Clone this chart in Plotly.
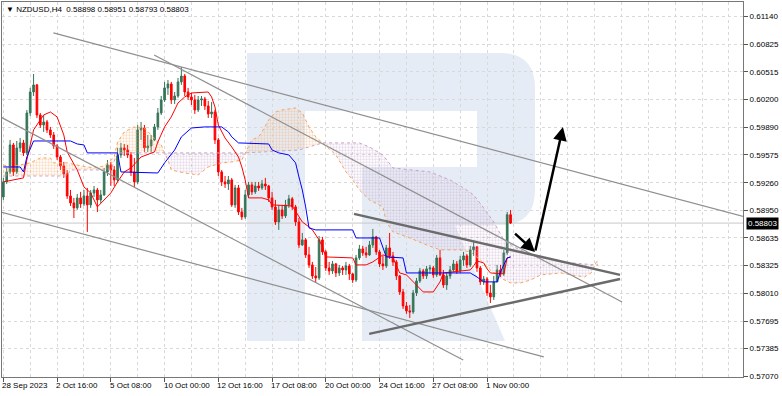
import plotly.graph_objects as go

# ---------------- data ----------------
first_open = 0.59099
bar_close = [0.59269,0.59382,0.59687,0.59382,0.59653,0.59710,0.59597,0.60049,0.60286,0.60366,
0.60026,0.59913,0.59947,0.59857,0.59800,0.59676,0.59551,0.59450,0.59359,0.59110,
0.59031,0.58975,0.59088,0.59020,0.59110,0.59009,0.59144,0.59178,0.59065,0.59122,
0.59382,0.59461,0.59404,0.59291,0.59574,0.59653,0.59630,0.59574,0.59382,0.59269,
0.59857,0.59879,0.59653,0.59676,0.59744,0.59891,0.60049,0.60196,0.60332,0.60377,
0.60196,0.60241,0.60400,0.60467,0.60286,0.60230,0.60196,0.60083,0.60196,0.60207,
0.60128,0.60038,0.60060,0.59744,0.59382,0.59269,0.59246,0.59291,0.59009,0.59201,
0.58929,0.58873,0.59122,0.59235,0.59156,0.59223,0.59201,0.59246,0.59223,0.59088,
0.58986,0.58816,0.58952,0.58884,0.59009,0.59077,0.58986,0.58816,0.58556,0.58613,
0.58443,0.58330,0.58205,0.58183,0.58613,0.58477,0.58296,0.58262,0.58341,0.58239,
0.58296,0.58273,0.58319,0.58228,0.58160,0.58409,0.58511,0.58466,0.58443,0.58556,
0.58647,0.58477,0.58341,0.58319,0.58522,0.58432,0.58364,0.58205,0.58024,0.57866,
0.57810,0.57798,0.58013,0.58149,0.58262,0.58205,0.58285,0.58296,0.58217,0.58409,
0.58217,0.58104,0.58205,0.58273,0.58341,0.58262,0.58386,0.58432,0.58330,0.58500,
0.58534,0.58296,0.58138,0.58171,0.58013,0.57968,0.58138,0.58273,0.58228,0.58466,
0.58898,0.58803]
bar_high = [0.59314,0.59427,0.59744,0.59710,0.59732,0.59766,0.59744,0.60083,0.60332,0.60490,
0.60377,0.60049,0.60026,0.59970,0.59891,0.59834,0.59698,0.59574,0.59495,0.59404,
0.59178,0.59088,0.59133,0.59156,0.59178,0.59201,0.59178,0.59223,0.59201,0.59178,
0.59427,0.59517,0.59495,0.59450,0.59653,0.59710,0.59698,0.59687,0.59608,0.59540,
0.59913,0.59947,0.59913,0.59800,0.59800,0.59925,0.60105,0.60241,0.60400,0.60422,
0.60400,0.60286,0.60445,0.60569,0.60490,0.60332,0.60275,0.60253,0.60241,0.60241,
0.60230,0.60185,0.60173,0.60083,0.59766,0.59404,0.59336,0.59336,0.59314,0.59235,
0.59235,0.58975,0.59178,0.59269,0.59269,0.59269,0.59269,0.59291,0.59314,0.59235,
0.59156,0.59065,0.59009,0.59009,0.59065,0.59122,0.59099,0.59009,0.58861,0.58692,
0.58635,0.58534,0.58364,0.58307,0.58658,0.58647,0.58500,0.58364,0.58375,0.58352,
0.58330,0.58319,0.58364,0.58341,0.58239,0.58443,0.58556,0.58545,0.58534,0.58601,
0.58737,0.58658,0.58500,0.58432,0.58556,0.58692,0.58477,0.58386,0.58217,0.58058,
0.57911,0.57877,0.58047,0.58183,0.58296,0.58285,0.58319,0.58330,0.58319,0.58443,
0.58500,0.58273,0.58239,0.58319,0.58386,0.58375,0.58432,0.58477,0.58454,0.58545,
0.58590,0.58545,0.58319,0.58205,0.58194,0.58104,0.58205,0.58330,0.58330,0.58500,
0.58929,0.58951]
bar_low = [0.59065,0.59246,0.59359,0.59336,0.59359,0.59608,0.59563,0.59574,0.60015,0.60241,
0.59992,0.59879,0.59834,0.59823,0.59766,0.59642,0.59517,0.59404,0.59314,0.59077,
0.58997,0.58861,0.58952,0.58975,0.58997,0.58703,0.58975,0.59099,0.58929,0.59031,
0.59110,0.59336,0.59223,0.59223,0.59269,0.59540,0.59563,0.59540,0.59336,0.59212,
0.59246,0.59744,0.59608,0.59608,0.59608,0.59732,0.59857,0.60026,0.60173,0.60253,
0.60151,0.60151,0.60219,0.60366,0.60241,0.60196,0.60139,0.60038,0.60060,0.60128,
0.60083,0.59992,0.59992,0.59698,0.59336,0.59223,0.59201,0.59178,0.58986,0.58975,
0.58895,0.58839,0.58850,0.59088,0.59122,0.59133,0.59167,0.59178,0.59178,0.59042,
0.58952,0.58782,0.58726,0.58850,0.58861,0.58975,0.58952,0.58771,0.58522,0.58545,
0.58409,0.58296,0.58171,0.58126,0.58160,0.58443,0.58262,0.58217,0.58228,0.58194,
0.58205,0.58217,0.58217,0.58160,0.58126,0.58138,0.58386,0.58432,0.58409,0.58432,
0.58522,0.58443,0.58307,0.58273,0.58296,0.58398,0.58319,0.58160,0.57990,0.57832,
0.57776,0.57730,0.57776,0.57979,0.58126,0.58171,0.58171,0.58228,0.58183,0.58194,
0.58205,0.58070,0.58047,0.58171,0.58251,0.58228,0.58239,0.58319,0.58296,0.58307,
0.58432,0.58251,0.58104,0.58104,0.57979,0.57900,0.57934,0.58138,0.58194,0.58205,
0.58443,0.58793]
bar_open = [first_open] + bar_close[:-1]
bar_index = list(range(len(bar_close)))

tenkan_bar = [0,3,6,7,9,12,14,16,18,19,22,24,26,28,30,32,34,36,38,41,45,46,48,50,52,54,56,61,62,63,
64,66,68,70,71,72,73,77,79,80,86,88,89,91,92,94,95,96,104,105,108,110,113,116,118,120,123,125,128,130,
131,139,140,141,143,144,145,149,150,151]
tenkan_val = [0.59269,0.59291,0.59314,0.59517,0.59857,0.60026,0.60060,0.60004,0.59800,0.59608,
0.59404,0.59212,0.59144,0.58986,0.59065,0.59144,0.59269,0.59382,0.59427,0.59551,
0.59608,0.59721,0.59891,0.60004,0.60162,0.60230,0.60275,0.60286,0.60230,0.60117,
0.59913,0.59766,0.59664,0.59551,0.59438,0.59291,0.59088,0.59088,0.59065,0.59009,
0.58997,0.58873,0.58816,0.58760,0.58726,0.58613,0.58534,0.58420,0.58409,0.58330,
0.58330,0.58364,0.58443,0.58409,0.58239,0.58217,0.58104,0.58024,0.58024,0.58138,
0.58239,0.58273,0.58319,0.58375,0.58352,0.58285,0.58239,0.58228,0.58409,0.58420]

kijun_bar = [0,5,6,7,9,20,22,24,25,34,35,46,48,50,51,53,56,60,65,67,68,70,79,80,82,85,87,88,89,90,
91,93,104,105,112,114,119,120,139,141,143,147,148,150,151]
kijun_val = [0.59438,0.59438,0.59382,0.59551,0.59732,0.59732,0.59698,0.59687,0.59597,0.59597,
0.59382,0.59370,0.59484,0.59574,0.59630,0.59778,0.59879,0.59891,0.59891,0.59834,
0.59778,0.59710,0.59698,0.59630,0.59597,0.59574,0.59484,0.59325,0.59178,0.58986,
0.58748,0.58726,0.58726,0.58635,0.58635,0.58420,0.58409,0.58239,0.58239,0.58194,
0.58138,0.58138,0.58251,0.58409,0.58420]

spanA_bar = [0,2,5,8,11,14,15,19,23,27,30,33,34,36,39,42,44,47,48,49,50,54,58,61,65,68,71,72,73,74,
76,77,79,81,83,87,89,91,93,95,96,99,102,104,106,109,113,114,116,121,126,130,136,139,142,145,148,151,154,157,
160,166,169,173,175,176,177]
spanA_val = [0.59461,0.59438,0.59461,0.59484,0.59540,0.59540,0.59484,0.59484,0.59450,0.59427,
0.59450,0.59551,0.59721,0.59834,0.59891,0.59879,0.59800,0.59687,0.59597,0.59517,
0.59404,0.59370,0.59348,0.59438,0.59484,0.59495,0.59517,0.59597,0.59664,0.59744,
0.59778,0.59834,0.59970,0.60060,0.60083,0.60105,0.60049,0.59891,0.59778,0.59710,
0.59687,0.59574,0.59382,0.59291,0.59178,0.59065,0.58986,0.58816,0.58703,0.58635,
0.58556,0.58500,0.58500,0.58477,0.58386,0.58273,0.58183,0.58126,0.58126,0.58160,
0.58217,0.58239,0.58217,0.58194,0.58239,0.58330,0.58386]

spanB_bar = [0,19,20,32,34,48,72,88,95,106,109,113,116,127,133,137,140,143,146,149,152,157,161,166,176,177]
spanB_val = [0.59336,0.59336,0.59404,0.59404,0.59597,0.59597,0.59597,0.59630,0.59710,0.59710,
0.59664,0.59574,0.59427,0.59382,0.59291,0.59201,0.59122,0.58975,0.58816,0.58613,
0.58534,0.58443,0.58409,0.58364,0.58330,0.58330]

# cloud segments between crossings: (start bar, end bar, bullish?)
cloud_segments = [(0, 48, True), (48, 72, False), (72, 95, True), (95, 176, False), (176, 177, True)]

# analyst drawings (bar index, price)
trend_x0 = [14.9, 44.9, -0.9, -0.9]
trend_y0 = [0.60954, 0.60705, 0.60004, 0.58929]
trend_x1 = [223.0, 184.2, 136.9, 160.9]
trend_y1 = [0.58850, 0.57911, 0.57255, 0.57289]
tri_x0 = [104.4, 108.9]
tri_y0 = [0.58907, 0.57550]
tri_x1 = [183.6, 183.6]
tri_y1 = [0.58217, 0.58171]
arrow_tail_x = [151.9, 158.3]
arrow_tail_y = [0.58700, 0.58477]
arrow_head_x = [158.3, 166.6]
arrow_head_y = [0.58477, 0.59891]

bid_price = 0.58803
title_text = "▼ NZDUSD,H4  0.58898 0.58951 0.58793 0.58803"

price_ticks = [0.61140,0.60825,0.60515,0.60200,0.59890,0.59575,0.59260,0.58950,0.58635,0.58325,
               0.58010,0.57695,0.57385,0.57070]
xlabel_bars = [0,16,32,48,64,80,96,112,128,144]
xlabel_text = ["28 Sep 2023","2 Oct 16:00","5 Oct 08:00","10 Oct 00:00","12 Oct 16:00",
               "17 Oct 08:00","20 Oct 00:00","24 Oct 16:00","27 Oct 08:00","1 Nov 00:00"]
grid_bars = list(range(0, 224, 8))

FONT = "Liberation Sans"
fig = go.Figure()

# ---------------- Ichimoku cloud ----------------
for s, e, bull in cloud_segments:
    ax = [b for b in spanA_bar if s <= b <= e]
    ay = [v for b, v in zip(spanA_bar, spanA_val) if s <= b <= e]
    bx = [b for b in spanB_bar if s <= b <= e]
    by = [v for b, v in zip(spanB_bar, spanB_val) if s <= b <= e]
    col = "rgba(244,164,96,0.75)" if bull else "rgba(190,150,196,0.7)"
    fig.add_trace(go.Scatter(
        x=ax + bx[::-1], y=ay + by[::-1], mode="none", fill="toself",
        fillcolor="rgba(0,0,0,0)",
        fillpattern=dict(shape=".", fgcolor=col, bgcolor="rgba(0,0,0,0)", size=3, solidity=0.45),
        hoverinfo="skip"))

fig.add_trace(go.Scatter(x=spanA_bar, y=spanA_val, mode="lines",
                         line=dict(color="#F4A460", width=1, dash="dot"), hoverinfo="skip"))
fig.add_trace(go.Scatter(x=spanB_bar, y=spanB_val, mode="lines",
                         line=dict(color="#C8A2C8", width=1, dash="dot"), hoverinfo="skip"))

# ---------------- candles ----------------
fig.add_trace(go.Candlestick(
    x=bar_index, open=bar_open, high=bar_high, low=bar_low, close=bar_close,
    increasing=dict(line=dict(color="#357558", width=1), fillcolor="#357558"),
    decreasing=dict(line=dict(color="#ff0000", width=1), fillcolor="#ff0000"),
    whiskerwidth=0, hoverinfo="skip"))

# ---------------- tenkan / kijun ----------------
fig.add_trace(go.Scatter(x=tenkan_bar, y=tenkan_val, mode="lines",
                         line=dict(color="#ff0000", width=1), hoverinfo="skip"))
fig.add_trace(go.Scatter(x=kijun_bar, y=kijun_val, mode="lines",
                         line=dict(color="#0000ff", width=1), hoverinfo="skip"))

shapes = []
# watermark "R" (paper coordinates)
wm = "#e6ecf5"
shapes.append(dict(type="path", xref="paper", yref="paper", layer="below",
                   path=("M 0.3306,0.864 L 0.6721,0.864 Q 0.7193,0.864 0.7193,0.7707 "
                         "L 0.7193,0.4987 Q 0.7193,0.4053 0.6721,0.4053 L 0.6113,0.4053 "
                         "L 0.6788,0.096 L 0.4858,0.096 L 0.4858,0.56 L 0.4089,0.56 "
                         "L 0.4089,0.096 L 0.3306,0.096 Z"),
                   fillcolor=wm, line=dict(width=0)))
shapes.append(dict(type="rect", xref="paper", yref="paper", layer="below",
                   x0=0.4089, x1=0.6410, y0=0.56, y1=0.7093,
                   fillcolor="white", line=dict(width=0)))
# bid line
shapes.append(dict(type="line", xref="paper", yref="y", layer="below", x0=0, x1=1,
                   y0=bid_price, y1=bid_price, line=dict(color="#c8c8c8", width=1)))
# trend lines
for x0, y0, x1, y1 in zip(trend_x0, trend_y0, trend_x1, trend_y1):
    shapes.append(dict(type="line", xref="x", yref="y", x0=x0, y0=y0, x1=x1, y1=y1,
                       line=dict(color="#8f8f8f", width=1.2), layer="above"))
for x0, y0, x1, y1 in zip(tri_x0, tri_y0, tri_x1, tri_y1):
    shapes.append(dict(type="line", xref="x", yref="y", x0=x0, y0=y0, x1=x1, y1=y1,
                       line=dict(color="#6b6b6b", width=2.5), layer="above"))

annotations = []
for tx, ty, hx, hy in zip(arrow_tail_x, arrow_tail_y, arrow_head_x, arrow_head_y):
    annotations.append(dict(x=hx, y=hy, ax=tx, ay=ty, xref="x", yref="y", axref="x", ayref="y",
                            text="", showarrow=True, arrowhead=2, arrowsize=1.1,
                            arrowwidth=2.5, arrowcolor="black", standoff=0, startstandoff=0))
for b, t in zip(xlabel_bars, xlabel_text):
    annotations.append(dict(x=b, y=0, xref="x", yref="paper", text=t, showarrow=False,
                            xanchor="left", yanchor="top", xshift=-3, yshift=-2,
                            font=dict(family=FONT, size=8, color="black")))
annotations.append(dict(x=0, y=1, xref="paper", yref="paper", text=title_text, showarrow=False,
                        xanchor="left", yanchor="top", xshift=2, yshift=-1,
                        font=dict(family=FONT, size=8, color="black")))
annotations.append(dict(x=1, y=bid_price, xref="paper", yref="y", text="0.58803", showarrow=False,
                        xanchor="left", yanchor="middle", xshift=3, bgcolor="black", borderpad=1,
                        font=dict(family=FONT, size=8, color="white")))

grid_col = "#d9d9d9"
fig.update_layout(
    width=782, height=396,
    margin=dict(l=2, r=39, t=2, b=19),
    paper_bgcolor="white", plot_bgcolor="white",
    showlegend=False, hovermode=False,
    shapes=shapes, annotations=annotations,
    xaxis=dict(range=[-0.4, 220.2], rangeslider=dict(visible=False),
               tickvals=xlabel_bars, ticks="outside", ticklen=4, tickcolor="#555",
               showticklabels=False, showgrid=True, gridcolor=grid_col, griddash="3px,3px",
               gridwidth=1,
               minor=dict(tickvals=[g for g in grid_bars if g not in xlabel_bars],
                          showgrid=True, gridcolor=grid_col, griddash="3px,3px", ticks=""),
               showline=True, linecolor="#777", linewidth=1, mirror=True, zeroline=False),
    yaxis=dict(range=[0.57062, 0.61304], side="right",
               tickvals=price_ticks, ticktext=[f"{p:.5f}" for p in price_ticks],
               ticks="outside", ticklen=4, tickcolor="#555",
               tickfont=dict(family=FONT, size=8, color="black"),
               showgrid=True, gridcolor=grid_col, griddash="3px,3px", gridwidth=1,
               showline=True, linecolor="#777", linewidth=1, mirror=True, zeroline=False),
)

fig.write_html("out.html")
